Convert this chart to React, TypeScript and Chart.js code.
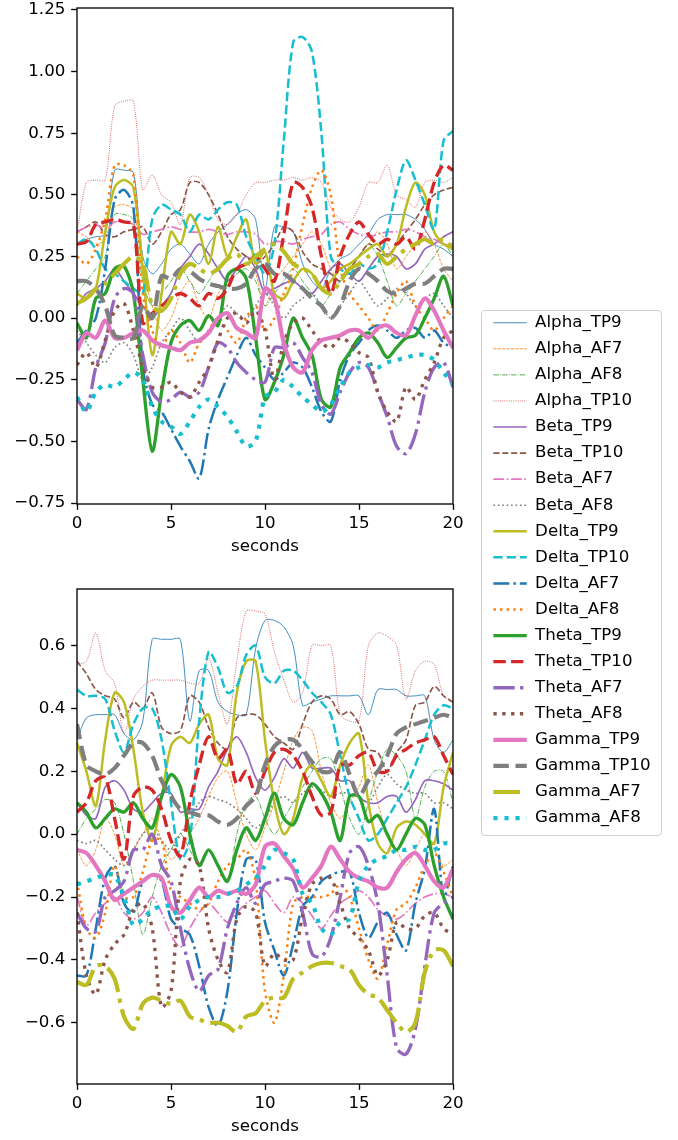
import React, { useEffect, useRef } from "react";
import { Chart, registerables } from "chart.js";

Chart.register(...registerables);

// ---------------- data ----------------
const TIME = [
  0, 0.5, 1, 1.5, 2, 2.5, 3, 3.5, 4, 4.5,
  5, 5.5, 6, 6.5, 7, 7.5, 8, 8.5, 9, 9.5,
  10, 10.5, 11, 11.5, 12, 12.5, 13, 13.5, 14, 14.5,
  15, 15.5, 16, 16.5, 17, 17.5, 18, 18.5, 19, 19.5,
  20,
];

const SERIES_NAMES = [
  "Alpha_TP9", "Alpha_AF7", "Alpha_AF8", "Alpha_TP10",
  "Beta_TP9", "Beta_TP10", "Beta_AF7", "Beta_AF8",
  "Delta_TP9", "Delta_TP10", "Delta_AF7", "Delta_AF8",
  "Theta_TP9", "Theta_TP10", "Theta_AF7", "Theta_AF8",
  "Gamma_TP9", "Gamma_TP10", "Gamma_AF7", "Gamma_AF8",
];

const X_TICKS = [0, 5, 10, 15, 20];
const TOP_Y_TICKS = [-0.75, -0.5, -0.25, 0, 0.25, 0.5, 0.75, 1.0, 1.25];
const BOTTOM_Y_TICKS = [-0.6, -0.4, -0.2, 0, 0.2, 0.4, 0.6];
const X_LABEL = "seconds";

// ---- top subplot ----
const ALPHA_TP9_TOP = [0.30, 0.32, 0.33, 0.34, 0.60, 0.60, 0.59, 0.25, 0.18, 0.22, 0.28, 0.30, 0.26, 0.22, 0.30, 0.35, 0.38, 0.42, 0.44, 0.40, 0.12, 0.37, 0.37, 0.35, 0.22, 0.15, 0.12, 0.20, 0.24, 0.26, 0.30, 0.34, 0.40, 0.42, 0.42, 0.42, 0.40, 0.36, 0.30, 0.28, 0.25];
const ALPHA_AF7_TOP = [0.35, 0.33, 0.30, 0.32, 0.45, 0.46, 0.44, 0.20, 0.05, -0.05, 0.00, 0.10, 0.15, 0.05, 0.00, 0.10, 0.15, 0.20, 0.22, 0.18, 0.05, 0.15, 0.20, 0.25, 0.30, 0.35, 0.30, 0.20, 0.15, 0.20, 0.25, 0.30, 0.35, 0.30, 0.20, 0.25, 0.30, 0.35, 0.30, 0.20, 0.15];
const ALPHA_AF8_TOP = [0.10, 0.15, 0.20, 0.25, 0.42, 0.42, 0.40, 0.15, 0.05, 0.10, 0.15, 0.20, 0.15, 0.10, 0.15, 0.20, 0.15, 0.18, 0.20, 0.15, 0.05, 0.10, 0.15, 0.20, 0.15, 0.10, 0.05, 0.10, 0.15, 0.20, 0.25, 0.30, 0.25, 0.15, 0.05, 0.10, 0.15, 0.20, 0.25, 0.30, 0.25];
const ALPHA_TP10_TOP = [0.35, 0.55, 0.56, 0.56, 0.86, 0.88, 0.88, 0.52, 0.58, 0.50, 0.47, 0.38, 0.57, 0.57, 0.50, 0.40, 0.38, 0.42, 0.50, 0.55, 0.55, 0.56, 0.56, 0.57, 0.56, 0.57, 0.55, 0.45, 0.40, 0.39, 0.45, 0.55, 0.55, 0.62, 0.50, 0.48, 0.45, 0.55, 0.56, 0.55, 0.57];
const BETA_TP9_TOP = [0.05, 0.10, 0.12, 0.15, 0.20, 0.15, 0.10, 0.05, 0.00, 0.05, 0.10, 0.20, 0.25, 0.30, 0.26, 0.20, 0.15, 0.20, 0.25, 0.20, 0.10, 0.12, 0.14, 0.15, 0.12, 0.10, 0.15, 0.20, 0.22, 0.18, 0.15, 0.20, 0.25, 0.26, 0.25, 0.20, 0.22, 0.28, 0.30, 0.33, 0.35];
const BETA_TP10_TOP = [0.35, 0.37, 0.39, 0.34, 0.33, 0.35, 0.36, 0.37, 0.30, 0.35, 0.42, 0.44, 0.55, 0.55, 0.50, 0.42, 0.33, 0.28, 0.25, 0.22, 0.25, 0.30, 0.37, 0.35, 0.27, 0.22, 0.20, 0.18, 0.15, 0.20, 0.25, 0.30, 0.28, 0.25, 0.30, 0.35, 0.40, 0.46, 0.50, 0.52, 0.53];
const BETA_AF7_TOP = [0.35, 0.37, 0.38, 0.36, 0.39, 0.39, 0.38, 0.34, 0.35, 0.36, 0.37, 0.36, 0.35, 0.35, 0.36, 0.35, 0.34, 0.35, 0.35, 0.34, 0.30, 0.31, 0.31, 0.30, 0.32, 0.33, 0.34, 0.38, 0.39, 0.36, 0.34, 0.33, 0.34, 0.35, 0.35, 0.36, 0.35, 0.33, 0.32, 0.30, 0.30];
const BETA_AF8_TOP = [-0.05, -0.10, -0.15, -0.18, -0.12, -0.10, -0.15, -0.25, -0.20, -0.10, -0.05, 0.00, -0.05, -0.10, -0.05, 0.00, 0.05, 0.02, 0.00, 0.05, 0.10, 0.05, 0.00, 0.05, 0.08, 0.10, 0.05, 0.00, 0.05, 0.10, 0.15, 0.10, 0.05, 0.08, 0.12, 0.10, 0.05, 0.08, 0.10, 0.05, 0.00];
const DELTA_TP9_TOP = [0.10, 0.08, 0.12, 0.35, 0.53, 0.56, 0.53, 0.20, -0.15, 0.10, 0.35, 0.30, 0.42, 0.35, 0.22, 0.37, 0.25, 0.33, 0.40, 0.22, 0.27, 0.10, 0.08, 0.15, 0.20, 0.18, 0.12, 0.15, 0.20, 0.22, 0.25, 0.28, 0.30, 0.25, 0.30, 0.45, 0.55, 0.50, 0.35, 0.30, 0.28];
const DELTA_TP10_TOP = [0.30, 0.32, 0.28, 0.20, 0.18, 0.15, 0.12, 0.10, 0.40, 0.46, 0.44, 0.42, 0.35, 0.42, 0.40, 0.44, 0.47, 0.46, 0.33, 0.25, 0.18, 0.30, 0.72, 1.12, 1.14, 1.08, 0.75, 0.25, 0.20, 0.18, 0.22, 0.20, 0.22, 0.35, 0.52, 0.64, 0.56, 0.46, 0.36, 0.72, 0.76];
const DELTA_AF7_TOP = [-0.10, -0.05, 0.00, 0.20, 0.48, 0.52, 0.45, -0.20, -0.35, -0.38, -0.45, -0.52, -0.58, -0.65, -0.45, -0.33, -0.24, -0.15, -0.08, -0.15, -0.20, -0.25, -0.22, -0.18, -0.20, -0.28, -0.38, -0.42, -0.25, -0.15, -0.10, -0.05, -0.03, -0.05, -0.08, -0.05, -0.04, -0.08, -0.05, -0.10, -0.12];
const DELTA_AF8_TOP = [0.25, 0.22, 0.28, 0.40, 0.62, 0.62, 0.58, 0.10, -0.05, -0.12, -0.05, -0.10, -0.18, -0.10, -0.05, 0.00, -0.05, -0.10, 0.00, 0.05, -0.05, 0.00, 0.10, 0.20, 0.38, 0.53, 0.60, 0.50, 0.20, 0.10, 0.05, 0.00, -0.05, 0.02, 0.10, 0.15, 0.05, 0.00, -0.05, 0.00, 0.05];
const THETA_TP9_TOP = [-0.02, -0.08, 0.08, 0.10, 0.20, 0.21, 0.10, -0.25, -0.54, -0.30, -0.10, -0.03, -0.01, -0.05, 0.01, -0.03, 0.17, 0.20, 0.16, -0.08, -0.33, -0.26, -0.15, 0.00, -0.08, -0.15, -0.33, -0.36, -0.20, -0.14, -0.08, -0.06, -0.10, -0.16, -0.12, -0.08, -0.07, 0.00, 0.08, 0.17, 0.05];
const THETA_TP10_TOP = [0.30, 0.31, 0.38, 0.39, 0.40, 0.39, 0.38, -0.02, 0.02, 0.05, 0.08, 0.10, 0.08, 0.05, 0.10, 0.08, 0.12, 0.20, 0.22, 0.25, 0.20, 0.15, 0.34, 0.55, 0.53, 0.45, 0.25, 0.10, 0.25, 0.34, 0.39, 0.34, 0.30, 0.32, 0.30, 0.33, 0.28, 0.40, 0.55, 0.62, 0.60];
const THETA_AF7_TOP = [-0.33, -0.37, -0.20, -0.10, 0.08, 0.12, 0.10, -0.15, -0.30, -0.34, -0.33, -0.30, -0.32, -0.30, -0.20, -0.10, -0.12, -0.18, -0.22, -0.25, -0.26, -0.12, -0.12, -0.10, -0.16, -0.22, -0.35, -0.39, -0.30, -0.22, -0.18, -0.20, -0.30, -0.40, -0.52, -0.55, -0.47, -0.30, -0.20, -0.18, -0.28];
const THETA_AF8_TOP = [-0.19, -0.14, -0.20, -0.09, 0.03, 0.06, -0.05, -0.20, -0.28, -0.28, -0.26, -0.30, -0.32, -0.26, -0.20, -0.09, 0.00, 0.02, -0.02, 0.03, -0.05, -0.25, -0.10, -0.02, 0.00, -0.05, -0.10, -0.12, -0.08, -0.10, -0.14, -0.16, -0.30, -0.38, -0.42, -0.28, -0.33, -0.25, -0.18, -0.08, -0.05];
const GAMMA_TP9_TOP = [-0.13, -0.06, -0.08, -0.01, -0.08, -0.08, -0.06, -0.05, -0.09, -0.11, -0.12, -0.13, -0.10, -0.09, -0.06, 0.00, 0.02, -0.04, -0.06, -0.08, 0.12, 0.08, -0.10, -0.20, -0.22, -0.13, -0.09, -0.08, -0.07, -0.05, -0.05, -0.08, -0.04, -0.03, -0.06, -0.07, 0.01, 0.08, 0.03, -0.05, -0.12];
const GAMMA_TP10_TOP = [0.15, 0.15, 0.12, 0.05, -0.07, -0.08, -0.08, 0.05, 0.00, 0.17, 0.16, 0.20, 0.19, 0.16, 0.14, 0.13, 0.12, 0.12, 0.14, 0.20, 0.22, 0.18, 0.18, 0.15, 0.12, 0.08, 0.05, 0.00, 0.05, 0.15, 0.20, 0.18, 0.15, 0.11, 0.10, 0.12, 0.14, 0.14, 0.17, 0.20, 0.20];
const GAMMA_AF7_TOP = [0.06, 0.08, 0.12, 0.14, 0.18, 0.22, 0.25, 0.22, 0.05, 0.03, 0.08, 0.18, 0.22, 0.20, 0.18, 0.20, 0.24, 0.26, 0.22, 0.25, 0.28, 0.30, 0.27, 0.22, 0.20, 0.18, 0.12, 0.10, 0.15, 0.20, 0.22, 0.25, 0.26, 0.22, 0.25, 0.28, 0.30, 0.32, 0.30, 0.32, 0.28];
const GAMMA_AF8_TOP = [-0.32, -0.38, -0.30, -0.27, -0.28, -0.25, -0.22, -0.25, -0.36, -0.42, -0.44, -0.47, -0.42, -0.36, -0.33, -0.36, -0.40, -0.46, -0.52, -0.50, -0.32, -0.30, -0.25, -0.28, -0.32, -0.35, -0.38, -0.35, -0.28, -0.22, -0.20, -0.19, -0.20, -0.18, -0.17, -0.16, -0.15, -0.15, -0.17, -0.22, -0.27];

// ---- bottom subplot ----
const ALPHA_TP9_BOT = [0.30, 0.37, 0.38, 0.38, 0.38, 0.32, 0.30, 0.36, 0.62, 0.62, 0.62, 0.62, 0.36, 0.52, 0.52, 0.42, 0.39, 0.38, 0.38, 0.59, 0.68, 0.68, 0.66, 0.60, 0.41, 0.42, 0.43, 0.44, 0.44, 0.44, 0.44, 0.38, 0.46, 0.46, 0.46, 0.44, 0.44, 0.44, 0.30, 0.26, 0.30];
const ALPHA_AF7_BOT = [-0.05, -0.10, -0.05, 0.05, 0.00, -0.10, -0.05, 0.00, 0.05, -0.02, -0.08, -0.05, 0.00, 0.05, 0.12, 0.18, 0.20, 0.10, 0.00, -0.05, 0.02, 0.10, 0.20, 0.30, 0.34, 0.33, 0.20, 0.10, 0.05, 0.10, 0.15, 0.22, 0.10, 0.00, -0.05, -0.10, -0.05, 0.00, -0.05, -0.10, -0.08];
const ALPHA_AF8_BOT = [0.00, 0.05, 0.08, 0.11, 0.10, 0.00, -0.15, -0.32, -0.20, -0.10, -0.05, 0.00, -0.05, -0.10, -0.05, -0.10, -0.15, 0.00, 0.10, 0.12, 0.05, 0.00, 0.05, 0.10, 0.15, 0.20, 0.24, 0.24, 0.15, 0.05, 0.00, 0.10, 0.20, 0.27, 0.25, 0.20, 0.05, 0.15, 0.20, 0.20, 0.10];
const ALPHA_TP10_BOT = [0.54, 0.55, 0.64, 0.52, 0.48, 0.32, 0.43, 0.47, 0.49, 0.49, 0.49, 0.49, 0.48, 0.48, 0.56, 0.45, 0.35, 0.55, 0.71, 0.71, 0.70, 0.58, 0.49, 0.42, 0.45, 0.60, 0.60, 0.60, 0.38, 0.36, 0.36, 0.60, 0.64, 0.63, 0.60, 0.43, 0.52, 0.55, 0.54, 0.44, 0.42];
const BETA_TP9_BOT = [0.10, 0.06, 0.05, 0.15, 0.17, 0.14, 0.08, 0.07, 0.10, 0.13, 0.13, 0.07, 0.08, 0.08, 0.15, 0.20, 0.27, 0.31, 0.26, 0.18, 0.14, 0.18, 0.24, 0.21, 0.26, 0.21, 0.21, 0.21, 0.17, 0.17, 0.12, 0.10, 0.10, 0.12, 0.12, 0.07, 0.11, 0.17, 0.17, 0.16, 0.14];
const BETA_TP10_BOT = [0.55, 0.51, 0.46, 0.44, 0.43, 0.37, 0.42, 0.40, 0.45, 0.34, 0.32, 0.33, 0.44, 0.42, 0.34, 0.29, 0.27, 0.37, 0.38, 0.38, 0.35, 0.31, 0.29, 0.27, 0.35, 0.42, 0.44, 0.43, 0.38, 0.39, 0.35, 0.27, 0.26, 0.20, 0.26, 0.30, 0.41, 0.42, 0.47, 0.44, 0.42];
const BETA_AF7_BOT = [-0.20, -0.29, -0.25, -0.22, -0.20, -0.25, -0.27, -0.25, -0.20, -0.25, -0.32, -0.36, -0.30, -0.25, -0.22, -0.25, -0.28, -0.25, -0.22, -0.20, -0.18, -0.22, -0.25, -0.20, -0.22, -0.26, -0.30, -0.26, -0.22, -0.20, -0.18, -0.20, -0.24, -0.26, -0.27, -0.25, -0.22, -0.20, -0.19, -0.19, -0.20];
const BETA_AF8_BOT = [-0.02, -0.03, -0.02, -0.05, -0.08, -0.10, -0.05, 0.00, 0.02, -0.02, -0.05, 0.00, 0.05, 0.10, 0.12, 0.11, 0.10, 0.08, 0.05, 0.02, 0.05, 0.10, 0.12, 0.10, 0.13, 0.15, 0.14, 0.12, 0.13, 0.13, 0.12, 0.10, 0.15, 0.19, 0.16, 0.14, 0.13, 0.13, 0.10, 0.10, 0.08];
const DELTA_TP9_BOT = [0.29, 0.20, 0.09, 0.30, 0.45, 0.42, 0.27, 0.07, -0.02, 0.12, 0.28, 0.31, 0.29, 0.35, 0.38, 0.24, 0.22, 0.45, 0.55, 0.55, 0.30, 0.10, 0.00, 0.05, 0.18, 0.22, 0.17, 0.12, 0.22, 0.29, 0.32, 0.10, -0.03, -0.06, 0.02, 0.04, 0.03, 0.00, -0.03, 0.15, 0.26];
const DELTA_TP10_BOT = [0.46, 0.44, 0.44, 0.43, 0.33, 0.26, 0.35, 0.40, 0.40, 0.30, 0.10, -0.08, -0.02, 0.36, 0.58, 0.53, 0.45, 0.47, 0.57, 0.60, 0.50, 0.48, 0.52, 0.52, 0.49, 0.45, 0.42, 0.38, 0.25, 0.12, 0.05, -0.02, 0.00, 0.05, 0.10, 0.15, 0.22, 0.30, 0.38, 0.41, 0.40];
const DELTA_AF7_BOT = [-0.45, -0.45, -0.30, -0.14, -0.10, -0.22, -0.25, -0.15, -0.13, -0.15, -0.27, -0.30, -0.32, -0.42, -0.55, -0.61, -0.50, -0.25, -0.08, -0.08, -0.28, -0.37, -0.45, -0.35, -0.23, -0.20, -0.15, -0.13, -0.12, -0.12, -0.25, -0.33, -0.28, -0.25, -0.32, -0.37, -0.22, -0.11, 0.08, -0.20, -0.10];
const DELTA_AF8_BOT = [-0.15, -0.30, -0.33, -0.25, -0.10, -0.20, -0.20, -0.12, -0.02, -0.02, -0.18, -0.20, -0.22, -0.24, -0.22, -0.15, -0.10, -0.08, -0.05, -0.15, -0.50, -0.60, -0.45, -0.22, -0.20, -0.20, -0.20, -0.19, -0.16, -0.20, -0.30, -0.40, -0.46, -0.35, -0.24, -0.22, -0.17, -0.10, -0.06, -0.12, -0.20];
const THETA_TP9_BOT = [0.10, 0.07, 0.02, 0.05, 0.08, 0.07, 0.10, 0.05, 0.02, 0.12, 0.19, 0.15, 0.00, -0.10, -0.05, -0.10, -0.15, -0.05, 0.02, -0.02, 0.05, 0.13, 0.05, 0.03, 0.10, 0.16, 0.13, 0.07, -0.02, 0.12, 0.12, 0.04, 0.06, 0.00, -0.05, 0.00, 0.05, 0.03, -0.10, -0.20, -0.27];
const THETA_TP10_BOT = [0.07, 0.10, 0.17, 0.18, 0.05, -0.08, 0.12, 0.15, 0.14, 0.08, -0.02, -0.07, 0.10, 0.22, 0.31, 0.24, 0.27, 0.16, 0.20, 0.13, 0.20, 0.26, 0.27, 0.25, 0.20, 0.12, 0.06, 0.07, 0.22, 0.22, 0.25, 0.26, 0.20, 0.20, 0.25, 0.27, 0.29, 0.30, 0.31, 0.25, 0.19];
const THETA_AF7_BOT = [-0.25, -0.30, -0.31, -0.20, -0.18, -0.15, -0.05, -0.05, 0.00, -0.10, -0.15, -0.30, -0.43, -0.50, -0.45, -0.43, -0.30, -0.22, -0.17, -0.22, -0.16, -0.15, -0.14, -0.15, -0.25, -0.38, -0.39, -0.33, -0.20, -0.06, -0.04, -0.10, -0.22, -0.45, -0.68, -0.70, -0.62, -0.42, -0.25, -0.22, -0.20];
const THETA_AF8_BOT = [-0.25, -0.45, -0.51, -0.40, -0.35, -0.32, -0.24, -0.22, -0.30, -0.55, -0.50, -0.15, -0.08, -0.10, -0.30, -0.40, -0.44, -0.27, -0.23, -0.25, -0.42, -0.38, -0.40, -0.40, -0.26, -0.16, -0.14, -0.14, -0.22, -0.30, -0.33, -0.37, -0.45, -0.40, -0.28, -0.30, -0.30, -0.26, -0.25, -0.30, -0.32];
const GAMMA_TP9_BOT = [-0.05, -0.06, -0.10, -0.15, -0.21, -0.19, -0.17, -0.15, -0.13, -0.14, -0.23, -0.25, -0.21, -0.17, -0.20, -0.18, -0.19, -0.18, -0.19, -0.16, -0.04, -0.03, -0.07, -0.11, -0.17, -0.14, -0.10, -0.04, -0.08, -0.12, -0.14, -0.15, -0.17, -0.17, -0.12, -0.08, -0.06, -0.10, -0.15, -0.17, -0.11];
const GAMMA_TP10_BOT = [0.35, 0.22, 0.20, 0.19, 0.21, 0.25, 0.29, 0.29, 0.25, 0.17, 0.12, 0.08, 0.07, 0.06, 0.06, 0.04, 0.03, 0.05, 0.09, 0.12, 0.22, 0.28, 0.30, 0.30, 0.27, 0.23, 0.20, 0.20, 0.26, 0.19, 0.12, 0.17, 0.20, 0.25, 0.32, 0.34, 0.35, 0.36, 0.37, 0.38, 0.37];
const GAMMA_AF7_BOT = [-0.47, -0.48, -0.42, -0.42, -0.46, -0.58, -0.62, -0.54, -0.52, -0.53, -0.54, -0.53, -0.58, -0.59, -0.60, -0.60, -0.61, -0.63, -0.58, -0.57, -0.53, -0.52, -0.52, -0.46, -0.44, -0.42, -0.41, -0.41, -0.42, -0.43, -0.48, -0.51, -0.52, -0.56, -0.60, -0.63, -0.60, -0.44, -0.37, -0.37, -0.42];
const GAMMA_AF8_BOT = [-0.16, -0.15, -0.14, -0.13, -0.13, -0.20, -0.29, -0.27, -0.24, -0.23, -0.23, -0.27, -0.23, -0.21, -0.20, -0.20, -0.19, -0.18, -0.16, -0.14, -0.10, -0.05, -0.06, -0.08, -0.19, -0.22, -0.30, -0.32, -0.28, -0.27, -0.15, -0.10, -0.08, -0.07, -0.05, -0.05, -0.04, -0.05, -0.05, -0.03, -0.03];

const TOP_SERIES = [
  ALPHA_TP9_TOP, ALPHA_AF7_TOP, ALPHA_AF8_TOP, ALPHA_TP10_TOP,
  BETA_TP9_TOP, BETA_TP10_TOP, BETA_AF7_TOP, BETA_AF8_TOP,
  DELTA_TP9_TOP, DELTA_TP10_TOP, DELTA_AF7_TOP, DELTA_AF8_TOP,
  THETA_TP9_TOP, THETA_TP10_TOP, THETA_AF7_TOP, THETA_AF8_TOP,
  GAMMA_TP9_TOP, GAMMA_TP10_TOP, GAMMA_AF7_TOP, GAMMA_AF8_TOP,
];
const BOTTOM_SERIES = [
  ALPHA_TP9_BOT, ALPHA_AF7_BOT, ALPHA_AF8_BOT, ALPHA_TP10_BOT,
  BETA_TP9_BOT, BETA_TP10_BOT, BETA_AF7_BOT, BETA_AF8_BOT,
  DELTA_TP9_BOT, DELTA_TP10_BOT, DELTA_AF7_BOT, DELTA_AF8_BOT,
  THETA_TP9_BOT, THETA_TP10_BOT, THETA_AF7_BOT, THETA_AF8_BOT,
  GAMMA_TP9_BOT, GAMMA_TP10_BOT, GAMMA_AF7_BOT, GAMMA_AF8_BOT,
];

// ---------------- styles ----------------
const COLORS = ["#1f77b4", "#ff7f0e", "#2ca02c", "#d62728", "#9467bd", "#8c564b", "#e377c2", "#7f7f7f", "#bcbd22", "#17becf"];
const PX_PER_PT = 120 / 72;
const BAND_WIDTH_PT = [0.5, 1, 1.5, 2, 2.5];
const STYLE_CYCLE = ["solid", "dashed", "dashdot", "dotted"];
const DASH_PT: Record<string, number[]> = {
  solid: [],
  dashed: [3.7, 1.6],
  dashdot: [6.4, 1.6, 1, 1.6],
  dotted: [1, 1.65],
};
const FONT_FAMILY = "'DejaVu Sans', 'Liberation Sans', sans-serif";
const FONT_SIZE = 16.67;
const TICK_LEN = 3.5 * PX_PER_PT;
const TICK_W = 0.8 * PX_PER_PT;
const SPINE_W = 0.8 * PX_PER_PT;

function lineStyle(i: number) {
  const lw = BAND_WIDTH_PT[Math.floor(i / 4)];
  const dash = DASH_PT[STYLE_CYCLE[i % 4]].map((v) => v * lw * PX_PER_PT);
  return { color: COLORS[i % 10], width: lw * PX_PER_PT, dash };
}

function buildDatasets(seriesList: number[][] | null) {
  return SERIES_NAMES.map((name, i) => {
    const st = lineStyle(i);
    return {
      label: name,
      data: seriesList ? seriesList[i].map((v, k) => ({ x: TIME[k], y: v })) : [],
      borderColor: st.color,
      backgroundColor: st.color,
      borderWidth: st.width,
      borderDash: st.dash,
      borderCapStyle: "butt",
      borderJoinStyle: "round",
      pointRadius: 0,
      pointHoverRadius: 0,
      tension: 0.3,
      fill: false,
      order: -i,
    };
  });
}

const framePlugin = {
  id: "axesFrame",
  afterDatasetsDraw(chart: any) {
    const { ctx, chartArea: a } = chart;
    ctx.save();
    ctx.strokeStyle = "#000";
    ctx.lineWidth = SPINE_W;
    ctx.strokeRect(a.left, a.top, a.right - a.left, a.bottom - a.top);
    ctx.restore();
  },
};

function fmt(v: number, decimals: number) {
  const s = Math.abs(v).toFixed(decimals);
  return v < -1e-9 ? "\u2212" + s : s;
}

function subplotOptions(cfg: any) {
  const font = { family: FONT_FAMILY, size: FONT_SIZE };
  return {
    responsive: false,
    maintainAspectRatio: false,
    animation: false,
    events: [],
    layout: { padding: { left: 0, right: cfg.padRight, top: cfg.padTop, bottom: 0 } },
    plugins: { legend: { display: false }, tooltip: { enabled: false } },
    scales: {
      x: {
        type: "linear",
        min: 0,
        max: 20,
        afterBuildTicks: (axis: any) => {
          axis.ticks = X_TICKS.map((v) => ({ value: v }));
        },
        afterFit: (axis: any) => {
          axis.height = cfg.xAxisHeight;
          axis.paddingLeft = 0;
          axis.paddingRight = 0;
        },
        grid: {
          drawOnChartArea: false,
          drawTicks: true,
          tickLength: TICK_LEN,
          tickWidth: TICK_W,
          tickColor: "#000",
          color: "#000",
        },
        border: { display: false },
        ticks: {
          font,
          color: "#000",
          padding: cfg.xTickPad,
          autoSkip: false,
          maxRotation: 0,
          minRotation: 0,
          callback: (v: any) => String(v),
        },
        title: {
          display: true,
          text: X_LABEL,
          font,
          color: "#000",
          padding: { top: 0, bottom: cfg.titlePadBottom },
        },
      },
      y: {
        type: "linear",
        min: cfg.yMin,
        max: cfg.yMax,
        afterBuildTicks: (axis: any) => {
          axis.ticks = cfg.yTicks.map((v: number) => ({ value: v }));
        },
        afterFit: (axis: any) => {
          axis.width = cfg.yAxisWidth;
          axis.paddingTop = 0;
          axis.paddingBottom = 0;
        },
        grid: {
          drawOnChartArea: false,
          drawTicks: true,
          tickLength: TICK_LEN,
          tickWidth: TICK_W,
          tickColor: "#000",
          color: "#000",
        },
        border: { display: false },
        ticks: {
          font,
          color: "#000",
          padding: TICK_LEN,
          autoSkip: false,
          callback: (v: any) => fmt(Number(v), cfg.decimals),
        },
      },
    },
  };
}

const LEGEND_PAD = 9.4;

export default function App() {
  const topRef = useRef<HTMLCanvasElement>(null);
  const botRef = useRef<HTMLCanvasElement>(null);
  const legRef = useRef<HTMLCanvasElement>(null);

  useEffect(() => {
    const charts: any[] = [];
    charts.push(
      new Chart(topRef.current as any, {
        type: "line",
        data: { datasets: buildDatasets(TOP_SERIES) as any },
        options: subplotOptions({
          padRight: 17,
          padTop: 8,
          xAxisHeight: 71,
          xTickPad: 4,
          titlePadBottom: 18,
          yAxisWidth: 77,
          yMin: -0.754,
          yMax: 1.258,
          yTicks: TOP_Y_TICKS,
          decimals: 2,
        }) as any,
        plugins: [framePlugin],
      })
    );
    charts.push(
      new Chart(botRef.current as any, {
        type: "line",
        data: { datasets: buildDatasets(BOTTOM_SERIES) as any },
        options: subplotOptions({
          padRight: 17,
          padTop: 29,
          xAxisHeight: 56,
          xTickPad: 4,
          titlePadBottom: 3,
          yAxisWidth: 77,
          yMin: -0.795,
          yMax: 0.78,
          yTicks: BOTTOM_Y_TICKS,
          decimals: 1,
        }) as any,
        plugins: [framePlugin],
      })
    );
    const legendFont = { family: FONT_FAMILY, size: FONT_SIZE };
    charts.push(
      new Chart(legRef.current as any, {
        type: "line",
        data: { datasets: buildDatasets(null) as any },
        options: {
          responsive: false,
          maintainAspectRatio: false,
          animation: false,
          events: [],
          layout: { padding: 0 },
          scales: { x: { display: false }, y: { display: false } },
          plugins: {
            tooltip: { enabled: false },
            legend: {
              display: true,
              position: "left",
              align: "start",
              maxWidth: 1000,
              maxHeight: 2000,
              labels: {
                usePointStyle: true,
                pointStyle: "line",
                pointStyleWidth: 2 * FONT_SIZE,
                padding: LEGEND_PAD,
                font: legendFont,
                color: "#000",
                generateLabels: (chart: any) =>
                  chart.data.datasets.map((ds: any, i: number) => ({
                    text: ds.label,
                    datasetIndex: i,
                    hidden: false,
                    strokeStyle: ds.borderColor,
                    fillStyle: ds.borderColor,
                    lineWidth: ds.borderWidth,
                    lineDash: ds.borderDash,
                    lineCap: "butt",
                    lineJoin: "round",
                    pointStyle: "line",
                    rotation: 0,
                    fontColor: "#000",
                  })),
              },
            },
          },
        } as any,
      })
    );
    return () => charts.forEach((c) => c.destroy());
  }, []);

  return (
    <div
      style={{
        position: "absolute",
        left: 0,
        top: 0,
        width: 678,
        height: 1140,
        background: "#fff",
        overflow: "hidden",
      }}
    >
      <canvas
        ref={topRef}
        width={470}
        height={575}
        style={{ position: "absolute", left: 0, top: 0, width: 470, height: 575 }}
      />
      <canvas
        ref={botRef}
        width={470}
        height={580}
        style={{ position: "absolute", left: 0, top: 560, width: 470, height: 580 }}
      />
      <div
        style={{
          position: "absolute",
          left: 481,
          top: 310,
          width: 181,
          height: 526,
          boxSizing: "border-box",
          border: "1px solid #d0d0d0",
          borderRadius: 4,
          background: "#fff",
        }}
      />
      <canvas
        ref={legRef}
        width={190}
        height={545}
        style={{ position: "absolute", left: 484, top: 305, width: 190, height: 545 }}
      />
    </div>
  );
}
